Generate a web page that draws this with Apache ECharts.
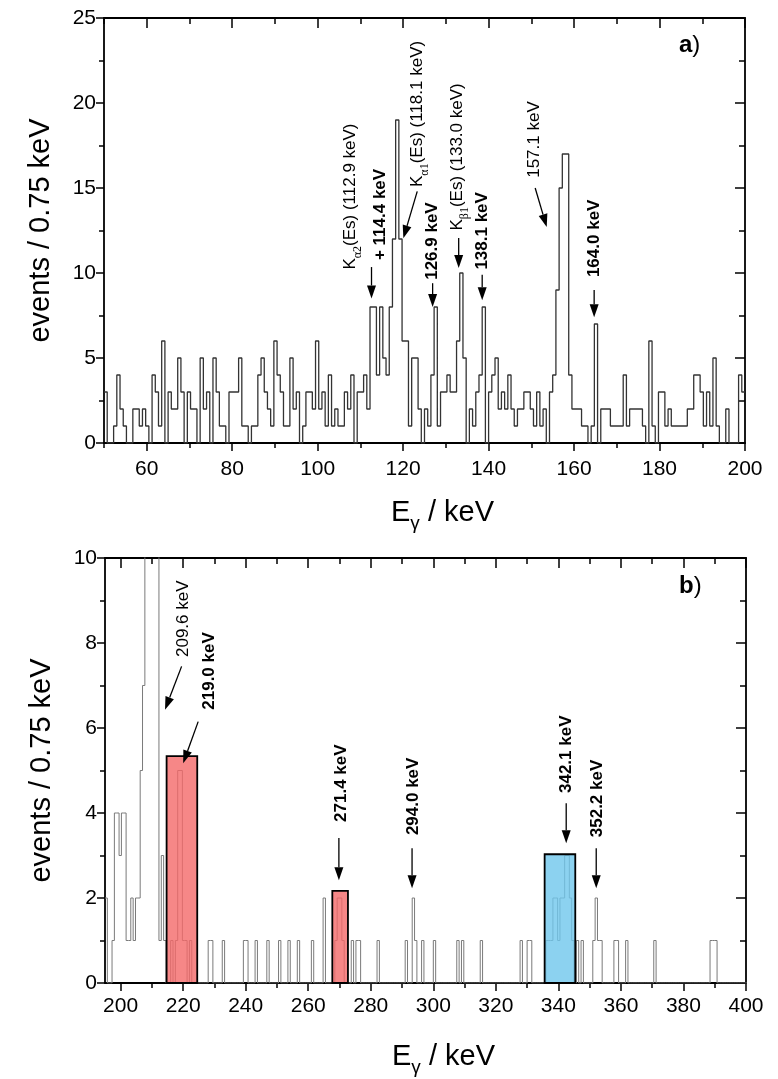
<!DOCTYPE html>
<html><head><meta charset="utf-8">
<script src="https://cdn.jsdelivr.net/npm/echarts@6/dist/echarts.min.js"></script>
<style>html,body{margin:0;padding:0;background:#fff}#c{width:778px;height:1079px}</style>
</head><body><div id="c"></div>
<script>
// ---------- data ----------
const binWidth = 0.75;
// Panel a: counts per 0.75 keV bin starting at 50 keV
const histAStart = 50;
const histACounts = [
 3,0,0,1,4,2,1,0,0,2, 2,1,2,1,0,4,3,1,6,0,
 3,2,2,5,3,0,3,2,2,0, 5,2,3,0,5,3,1,1,0,3,
 3,3,5,1,1,0,1,1,4,5, 3,2,1,6,4,3,1,1,5,2,
 3,0,1,3,3,2,6,2,3,1, 4,1,2,1,1,3,2,4,0,3,
 3,4,2,8,8,4,8,5,4,8, 12,19,12,6,6,1,5,5,2,0,
 2,1,4,8,1,3,3,4,3,3, 6,10,5,0,2,1,3,4,8,0,
 3,4,5,2,3,2,4,2,1,2, 2,3,3,2,1,3,1,2,0,3,
 4,9,15,17,17,4,2,2,2,1, 1,0,1,7,0,2,2,2,1,1,
 1,1,4,1,2,2,2,2,1,0, 6,1,0,3,3,1,2,1,1,1,
 1,1,2,2,4,4,3,1,3,1, 5,1,0,0,2,0,0,0,4,3
];
// Panel b: non-empty 0.75 keV bins (index from 195 keV) and their counts
const histBStart = 195;
const histBNumBins = 274;
const histBBins = [0,3,4,5,6,7,8,9,10,11,12,13,14,15,16,17,18,19,20,21,22,23,24,25,
 28,30,31,32,33,34,36,44,45,50,59,60,64,69,74,78,82,88,93,98,99,100,101,105,107,108,116,
 128,131,132,135,140,150,152,160,177,180,181,188,189,190,191,192,193,194,195,196,197,198,199,
 201,203,208,209,210,211,217,218,222,234,258,259,260];
const histBValues = [2,1,4,4,3,4,4,1,1,2,1,2,2,5,7,14,26,40,33,18,12,1,3,1,
 1,1,5,5,1,1,1,1,1,1,1,1,1,1,1,1,1,1,2,1,2,2,1,1,1,1,1,
 1,2,1,1,1,1,1,1,1,1,1,1,1,1,2,2,1,2,2,3,3,2,1,
 1,1,1,2,1,1,1,1,1,1,1,1,1];
// Highlight boxes in panel b
const boxFrom = [214.7, 267.7, 335.6];
const boxTo = [224.5, 272.7, 345.4];
const boxHeight = [5.34, 2.17, 3.03];
const boxColor = ['rgba(244,105,105,0.8)', 'rgba(244,105,105,0.8)', 'rgba(111,199,236,0.8)'];
// Tick values
const xMajorA = [60,80,100,120,140,160,180,200];
const xMinorA = [50,70,90,110,130,150,170,190];
const xMajorB = [200,220,240,260,280,300,320,340,360,380,400];
const xMinorB = [210,230,250,270,290,310,330,350,370,390];
// Annotations: text, bold, text anchor (x,y = bottom of rotated text), arrow [x1,y1,x2,y2]
const annA = [
 {text:'K{s|α2}(Es) (112.9 keV)', bold:false, x:107.7, y:10.2, arrow:[112.6,10.35,112.6,8.5]},
 {text:'+ 114.4 keV', bold:true, x:114.75, y:10.76, arrow:null},
 {text:'K{s|α1}(Es) (118.1 keV)', bold:false, x:123.25, y:15.06, arrow:[123.3,14.8,120.05,12.04]},
 {text:'126.9 keV', bold:true, x:126.9, y:9.6, arrow:[126.9,9.4,126.9,8.0]},
 {text:'K{s|β1}(Es) (133.0 keV)', bold:false, x:132.7, y:12.5, arrow:[133.0,12.06,133.0,10.3]},
 {text:'138.1 keV', bold:true, x:138.5, y:10.2, arrow:[138.5,9.9,138.5,8.4]},
 {text:'157.1 keV', bold:false, x:150.6, y:15.6, arrow:[150.9,15.0,153.6,12.7]},
 {text:'164.0 keV', bold:true, x:164.7, y:9.76, arrow:[164.7,9.0,164.7,7.4]}
];
const annB = [
 {text:'209.6 keV', bold:false, x:220.0, y:7.67, arrow:[219.5,7.45,214.2,6.43]},
 {text:'219.0 keV', bold:true, x:228.5, y:6.43, arrow:[224.8,6.15,220.0,5.17]},
 {text:'271.4 keV', bold:true, x:270.6, y:3.79, arrow:[269.8,3.41,269.8,2.42]},
 {text:'294.0 keV', bold:true, x:293.5, y:3.48, arrow:[293.2,3.17,293.2,2.23]},
 {text:'342.1 keV', bold:true, x:342.5, y:4.47, arrow:[342.5,4.23,342.5,3.29]},
 {text:'352.2 keV', bold:true, x:352.6, y:3.43, arrow:[352.1,3.17,352.1,2.23]}
];

// ---------- build ----------
const FONT = 'Liberation Sans, Arial, sans-serif';
function stepData(start, counts){
  const d = counts.map((c,i)=>[start + i*binWidth, c]);
  d.push([start + counts.length*binWidth, counts[counts.length-1]]);
  return d;
}
const countsB = new Array(histBNumBins).fill(0);
histBBins.forEach((j,k)=>{ countsB[j] = histBValues[k]; });

function annRender(list){
  return function(params, api){
    const a = list[params.dataIndex];
    const p = api.coord([a.x, a.y]);
    const children = [{
      type:'text', x:p[0], y:p[1], rotation:Math.PI/2,
      style:{text:a.text, fontFamily:FONT, fontSize:17, fontWeight:a.bold?'bold':'normal',
        fill:'#000', align:'left', verticalAlign:'middle',
        rich:{s:{fontFamily:'Liberation Serif, serif', fontSize:12, lineHeight:27, verticalAlign:'bottom'}}}
    }];
    if (a.arrow){
      const s = api.coord([a.arrow[0], a.arrow[1]]);
      const e = api.coord([a.arrow[2], a.arrow[3]]);
      const dx = e[0]-s[0], dy = e[1]-s[1], L = Math.hypot(dx,dy);
      const ux = dx/L, uy = dy/L, hl = 13, hw = 4.5;
      const bx = e[0]-ux*hl, by = e[1]-uy*hl;
      children.push({type:'line', shape:{x1:s[0],y1:s[1],x2:bx,y2:by}, style:{stroke:'#000', lineWidth:1.3}});
      children.push({type:'polygon', shape:{points:[[e[0],e[1]],[bx-uy*hw,by+ux*hw],[bx+uy*hw,by-ux*hw]]}, style:{fill:'#000'}});
    }
    return {type:'group', children};
  };
}

const labelStyle = {fontFamily:FONT, fontSize:21, color:'#000'};
const lineStyleAx = {color:'#000', width:1.8};
const xName = '{m|E}{s|γ}{m| / keV}';
const xNameStyle = {fontFamily:FONT, color:'#000', padding:[0,0,0,36],
  rich:{m:{fontFamily:FONT, fontSize:29, lineHeight:32}, s:{fontFamily:FONT, fontSize:19, lineHeight:40, verticalAlign:'bottom'}}};
const yNameStyle = {fontFamily:FONT, fontSize:29, color:'#000'};

function mainX(grid, min, max, major, pos, name, gap, margin){
  const bottom = pos === 'bottom';
  return {type:'value', gridIndex:grid, min, max, position:pos,
    axisLine:{show:true, onZero:false, lineStyle:lineStyleAx},
    axisTick:{show:true, inside:!bottom, length:bottom?8:10, customValues:major, lineStyle:{color:'#000', width:1.5}},
    axisLabel:{show:bottom, customValues:major, margin:margin||12, ...labelStyle},
    splitLine:{show:false},
    name: bottom ? name : '', nameLocation:'middle', nameGap:gap, nameTextStyle:xNameStyle};
}
function minorX(grid, min, max, minor, pos){
  const bottom = pos === 'bottom';
  return {type:'value', gridIndex:grid, min, max, position:pos,
    axisLine:{show:false, onZero:false},
    axisTick:{show:true, inside:!bottom, length:bottom?5:6, customValues:minor, lineStyle:{color:'#000', width:1.5}},
    axisLabel:{show:false}, splitLine:{show:false}};
}
function mainY(grid, max, interval, pos){
  const left = pos === 'left';
  return {type:'value', gridIndex:grid, min:0, max, interval, position:pos,
    axisLine:{show:true, onZero:false, lineStyle:lineStyleAx},
    axisTick:{show:true, inside:!left, length:left?8:10, lineStyle:{color:'#000', width:1.5}},
    minorTick:{show:true, splitNumber:2, length:left?5:6, lineStyle:{color:'#000', width:1.5}},
    axisLabel:{show:left, margin:8, ...labelStyle},
    splitLine:{show:false},
    name: left ? 'events / 0.75 keV' : '', nameLocation:'middle', nameGap:49, nameTextStyle:yNameStyle};
}

const gA = {left:104, top:18, width:641, height:425};
const gB = {left:105, top:558, width:641, height:425};

const option = {
  animation:false,
  backgroundColor:'#fff',
  grid:[gA, gB, {...gA}, {...gB}],
  xAxis:[
    mainX(0, 50, 200, xMajorA, 'bottom', xName, 50, 16),
    mainX(0, 50, 200, xMajorA, 'top'),
    mainX(1, 195, 400, xMajorB, 'bottom', xName, 54, 13),
    mainX(1, 195, 400, xMajorB, 'top'),
    minorX(2, 50, 200, xMinorA, 'bottom'),
    minorX(2, 50, 200, xMinorA, 'top'),
    minorX(3, 195, 400, xMinorB, 'bottom'),
    minorX(3, 195, 400, xMinorB, 'top')
  ],
  yAxis:[
    mainY(0, 25, 5, 'left'),
    mainY(0, 25, 5, 'right'),
    mainY(1, 10, 2, 'left'),
    mainY(1, 10, 2, 'right'),
    {type:'value', gridIndex:2, min:0, max:1, show:false},
    {type:'value', gridIndex:3, min:0, max:1, show:false}
  ],
  series:[
    {type:'line', xAxisIndex:0, yAxisIndex:0, step:'end', symbol:'none', clip:true,
     data:stepData(histAStart, histACounts), lineStyle:{color:'#333', width:1.3}, z:2},
    {type:'custom', xAxisIndex:0, yAxisIndex:0, data:annA.map(a=>[a.x,a.y]), renderItem:annRender(annA), clip:false, z:5},
    {type:'line', xAxisIndex:2, yAxisIndex:2, step:'end', symbol:'none', clip:true,
     data:stepData(histBStart, countsB), lineStyle:{color:'#7a7a7a', width:1}, z:2},
    {type:'custom', xAxisIndex:2, yAxisIndex:2, data:boxFrom.map((f,i)=>[f, boxTo[i], boxHeight[i]]),
     renderItem:function(params, api){
       const i = params.dataIndex;
       const p0 = api.coord([boxFrom[i], boxHeight[i]]);
       const p1 = api.coord([boxTo[i], 0]);
       return {type:'rect', shape:{x:p0[0], y:p0[1], width:p1[0]-p0[0], height:p1[1]-p0[1]},
         style:{fill:boxColor[i], stroke:'#000', lineWidth:1.8}};
     }, z:3},
    {type:'custom', xAxisIndex:2, yAxisIndex:2, data:annB.map(a=>[a.x,a.y]), renderItem:annRender(annB), clip:false, z:5}
  ],
  graphic:[
    {type:'text', left:679, top:33, style:{text:'{b|a})', fontFamily:FONT, fontSize:24, fill:'#000',
      rich:{b:{fontFamily:FONT, fontSize:24, fontWeight:'bold'}}}},
    {type:'text', left:679, top:574, style:{text:'{b|b})', fontFamily:FONT, fontSize:24, fill:'#000',
      rich:{b:{fontFamily:FONT, fontSize:24, fontWeight:'bold'}}}}
  ]
};
const chart = echarts.init(document.getElementById('c'), null, {renderer:'canvas'});
chart.setOption(option);
</script></body></html>
